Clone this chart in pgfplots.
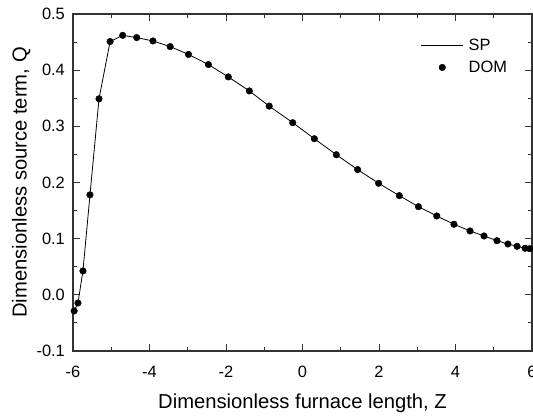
\documentclass[border=0pt]{standalone}
\usepackage{pgfplots}
\pgfplotsset{compat=1.18}
\usepackage{fontspec}
\setmainfont{Liberation Sans}
\begin{document}
\begin{tikzpicture}[x=1pt,y=1pt]
\begin{axis}[
  at={(0,0)}, anchor=south west,
  scale only axis,
  width=459pt, height=337pt,
  xmin=-6, xmax=6, ymin=-0.1, ymax=0.5,
  xtick={-6,-4,...,6}, ytick={-0.1,0,0.1,0.2,0.3,0.4,0.5},
  minor xtick={-5,-3,-1,1,3,5},
  minor ytick={-0.05,0.05,0.15,0.25,0.35,0.45},
  tick align=inside,
  major tick length=7pt, minor tick length=4pt,
  tick style={line width=1pt, black!80},
  axis line style={line width=1.2pt, black!80},
  /pgf/number format/assume math mode=true,
  /pgf/number format/fixed,
  /pgf/number format/fixed zerofill,
  /pgf/number format/precision=1,
  xticklabel={\pgfmathprintnumber[precision=0,fixed zerofill=false]{\tick}},
  xticklabel style={anchor=base, inner sep=0pt, yshift=-27pt, font=\fontsize{16.4}{19}\selectfont},
  yticklabel style={anchor=east, inner sep=0pt, xshift=-8pt, font=\fontsize{16.4}{19}\selectfont},
  xlabel={Dimensionless furnace length, Z},
  ylabel={Dimensionless source term, Q},
  xlabel style={at={(axis description cs:0.5,0)}, anchor=base, inner sep=0pt, yshift=-58pt, font=\fontsize{20.2}{24}\selectfont},
  ylabel style={at={(axis description cs:-0.1009,0.5)}, anchor=base, inner sep=0pt, rotate=0, font=\fontsize{20.2}{24}\selectfont},
  legend style={draw=none, fill=none, at={(axis description cs:0.7575,0.874)}, anchor=west, inner sep=0pt, row sep=9pt, column sep=5pt,
    font=\fontsize{16.4}{19}\selectfont, nodes={inner sep=0pt}},
  legend cell align=left,
]
\addplot[black, line width=0.8pt, mark=none,
  legend image code/.code={\draw[black, line width=0.8pt] (0pt,0pt) -- (42pt,0pt);}]
  coordinates {
(-5.97,-0.0287) (-5.87,-0.0145) (-5.74,0.0425) (-5.556,0.178) (-5.32,0.349)
(-5.03,0.451) (-4.70,0.462) (-4.335,0.458) (-3.91,0.452) (-3.46,0.442)
(-2.98,0.428) (-2.46,0.410) (-1.94,0.388) (-1.39,0.363) (-0.87,0.336)
(-0.256,0.3065) (0.309,0.278) (0.884,0.2495) (1.44,0.223) (1.99,0.1986)
(2.53,0.1766) (3.03,0.157) (3.51,0.1404) (3.96,0.1256) (4.38,0.1137)
(4.745,0.1048) (5.085,0.0964) (5.37,0.0905) (5.61,0.0864) (5.82,0.0829)
(5.94,0.0822) (6.0,0.0818)
  };
\addlegendentry{SP}
\addplot[only marks, mark=*, mark size=3.3pt, black,
  legend image code/.code={\fill[black] (21pt,0pt) circle (3.3pt);}]
  coordinates {
(-5.97,-0.0287) (-5.87,-0.0145) (-5.74,0.0425) (-5.556,0.178) (-5.32,0.349)
(-5.03,0.451) (-4.70,0.462) (-4.335,0.458) (-3.91,0.452) (-3.46,0.442)
(-2.98,0.428) (-2.46,0.410) (-1.94,0.388) (-1.39,0.363) (-0.87,0.336)
(-0.256,0.3065) (0.309,0.278) (0.884,0.2495) (1.44,0.223) (1.99,0.1986)
(2.53,0.1766) (3.03,0.157) (3.51,0.1404) (3.96,0.1256) (4.38,0.1137)
(4.745,0.1048) (5.085,0.0964) (5.37,0.0905) (5.61,0.0864) (5.82,0.0829)
(5.94,0.0822)
  };
\addlegendentry{DOM}
\end{axis}
\pgfresetboundingbox
\useasboundingbox (-73pt,-66pt) rectangle (460pt,351pt);
\end{tikzpicture}
\end{document}
